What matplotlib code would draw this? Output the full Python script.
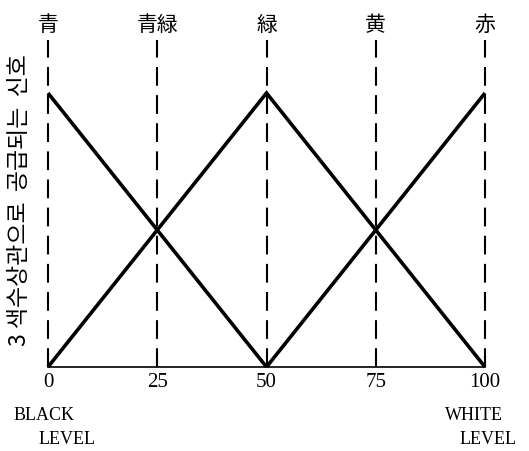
import numpy as np
import matplotlib
matplotlib.use("Agg")
import matplotlib.pyplot as plt

# --------------------------------------------
# datos
# --------------------------------------------
niveles = [0, 25, 50, 75, 100]
colores = ["青", "青緑", "緑", "黄", "赤"]

x_azul = [0, 50]
y_azul = [1.0, 0.0]
x_verde = [0, 50, 100]
y_verde = [0.0, 1.0, 0.0]
x_rojo = [50, 100]
y_rojo = [0.0, 1.0]

etiqueta_y = "3 색수상관으로  공급되는  신호"

# --------------------------------------------
# figura
# --------------------------------------------
fig = plt.figure(figsize=(5.29, 4.51), dpi=100)
ax = fig.add_axes([48/529, 84/451, 437/529, 327/451])
ytop = 327 / 274

ax.set_xlim(0, 100)
ax.set_ylim(0, ytop)
ax.axis("off")

# linea base
ax.plot([0, 100], [0, 0], color="black", lw=1.2, clip_on=False)

# lineas verticales discontinuas
for n in niveles:
    ax.plot([n, n], [0, ytop], color="black", lw=1.5,
            dashes=(9, 4.5), clip_on=False)

# señales
for xs, ys in [(x_azul, y_azul), (x_verde, y_verde), (x_rojo, y_rojo)]:
    ax.plot(xs, ys, color="black", lw=2.6, solid_joinstyle="miter",
            solid_capstyle="butt", clip_on=False)

# etiquetas superiores
for n, c in zip(niveles, colores):
    ax.annotate(c, (n, ytop), xytext=(0, 11), textcoords="offset points",
                ha="center", va="center", fontsize=15,
                family=["Noto Sans CJK JP", "DejaVu Sans"])

# numeros del eje
for n in niveles:
    ax.annotate(str(n), (n, 0), xytext=(0, -11), textcoords="offset points",
                ha="center", va="center", fontsize=15,
                family="Liberation Serif")

serif = "Liberation Serif"
fig.text(44/529, 1 - 415/451, "BLACK", ha="center", va="center",
         fontsize=13, family=serif)
fig.text(67/529, 1 - 440/451, "LEVEL", ha="center", va="center",
         fontsize=13, family=serif)
fig.text(474/529, 1 - 415/451, "WHITE", ha="center", va="center",
         fontsize=13, family=serif)
fig.text(488/529, 1 - 440/451, "LEVEL", ha="center", va="center",
         fontsize=13, family=serif)

fig.text(20/529, 1 - 200/451, etiqueta_y, rotation=90, ha="center",
         va="center", fontsize=16.5,
         family=["Noto Sans CJK KR", "DejaVu Sans"])

fig.savefig("out.png", dpi=100, facecolor="white")
